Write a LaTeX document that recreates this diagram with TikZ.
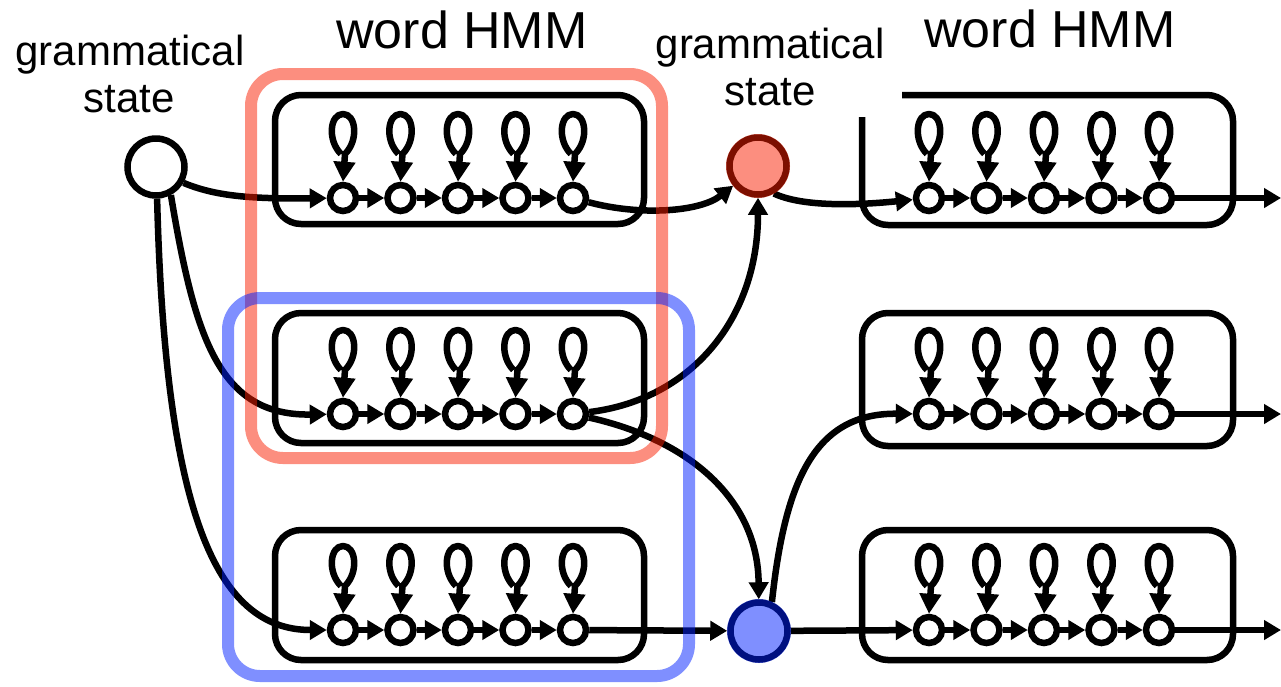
\documentclass[tikz,border=0pt]{standalone}
\usepackage{fontspec}
\setmainfont{Liberation Sans}
\usetikzlibrary{arrows.meta,calc}
\definecolor{hlred}{RGB}{250,30,0}
\definecolor{hlblue}{RGB}{0,32,255}
\tikzset{
  ln/.style={line width=6.5pt, line join=round},
  tip/.style={-{Triangle[length=17pt,width=19pt]}},
  looptip/.style={-{Triangle[length=20pt,width=21pt]}},
  st/.style={circle, draw, line width=6.5pt, fill=white, minimum size=26pt, inner sep=0pt},
  gst/.style={circle, draw, line width=6.5pt, fill=white, minimum size=57pt, inner sep=0pt},
  hmmbox/.style={line width=6.5pt, rounded corners=26pt},
  hl/.style={line width=12pt, rounded corners=32pt, opacity=0.5},
  lab/.style={font=\fontsize{42}{44}\selectfont, anchor=base, inner sep=0pt},
  ttl/.style={font=\fontsize{52}{54}\selectfont, anchor=base, inner sep=0pt},
}
\begin{document}
\begin{tikzpicture}[x=1pt,y=-1pt]
\useasboundingbox (0,0) rectangle (1281,686);

% labels
\node[lab] (g1) at (130,65) {grammatical};
\node[lab] (s1) at (129,112) {state};
\node[lab] (g2) at (770,58) {grammatical};
\node[lab] (s2) at (770,105) {state};
\node[ttl] (w1) at (462,48) {word HMM};
\node[ttl] (w2) at (1050,47) {word HMM};

% word HMM boxes
\draw[hmmbox] (275,95) rectangle (644,224);
\draw[hmmbox] (275,313) rectangle (644,443);
\draw[hmmbox] (275,530) rectangle (644,660);
\draw[hmmbox] (902,95) -- (1233,95) -- (1233,225) -- (862,225) -- (862,117);
\draw[hmmbox] (862,313) rectangle (1233,446);
\draw[hmmbox] (862,530) rectangle (1233,660);

% grammatical states
\node[gst] (L) at (156,167) {};
\node[gst] (R) at (758,166) {};
\node[gst] (B) at (759,631) {};

% HMM states, transitions and self-loops
\foreach \g/\xs in {a/343,b/929}{
  \foreach \r/\y in {1/198,2/414,3/630}{
    \foreach \c in {1,...,5}{
      \node[st] (\g\r\c) at ({\xs+57.5*(\c-1)},\y) {};
      \draw[ln,looptip] ($(\g\r\c)+(-2,-44)$)
        .. controls ($(\g\r\c)+(-16,-58)$) and ($(\g\r\c)+(-13,-84)$) .. ($(\g\r\c)+(0,-84)$)
        .. controls ($(\g\r\c)+(13,-84)$) and ($(\g\r\c)+(16,-58)$) .. ($(\g\r\c)+(2,-44)$)
        -- (\g\r\c.north);
    }
    \foreach \c [evaluate=\c as \n using int(\c+1)] in {1,...,4}{
      \draw[ln,tip] (\g\r\c) -- (\g\r\n);
    }
  }
}

% connections between grammatical states and word models
\draw[ln,tip] (L.-30) .. controls (215,196) and (250,199) .. (a11);
\draw[ln,tip] (L.-62) .. controls (195,340) and (220,416) .. (a21);
\draw[ln,tip] (L.-88) .. controls (165,510) and (215,630) .. (a31);
\draw[ln,tip] (a15) .. controls (640,216) and (700,212) .. (R);
\draw[ln,tip] (a25) .. controls (690,400) and (758,320) .. (R);
\draw[ln,tip] (a25) .. controls (690,440) and (758,500) .. (B);
\draw[ln,tip] (a35) -- (B);
\draw[ln,tip] (R.-60) .. controls (800,206) and (850,206) .. (b11);
\draw[ln,tip] (B.66) .. controls (785,480) and (815,413) .. (b21);
\draw[ln,tip] (B) -- (b31);
\foreach \r/\y in {1/198,2/414,3/630}{
  \coordinate (e\r) at (1281,\y);
  \draw[ln,tip] (b\r5) -- (e\r);
}

% highlights
\draw[hl, hlred] (251,74) rectangle (662,458);
\draw[hl, hlblue] (228,298) rectangle (689,676);
\fill[hlred, opacity=0.5] (R) circle (32pt);
\fill[hlblue, opacity=0.5] (B) circle (32pt);
\end{tikzpicture}
\end{document}
